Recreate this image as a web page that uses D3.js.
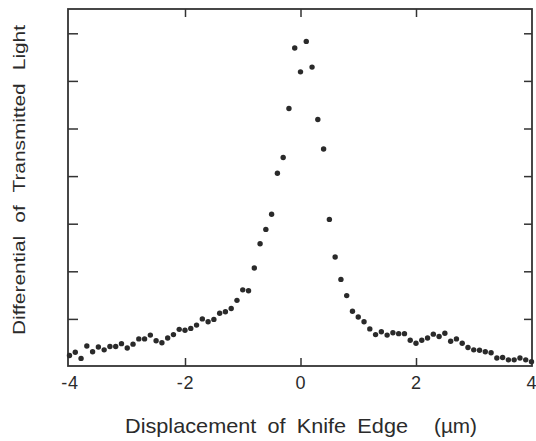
<!DOCTYPE html>
<html>
<head>
<meta charset="utf-8">
<script src="https://cdn.jsdelivr.net/npm/d3@7"></script>
<style>
  html, body { margin: 0; padding: 0; background: #fff; }
  svg { display: block; }
  text { font-family: "Liberation Sans", Arial, Helvetica, sans-serif; fill: #2b2b2b; }
</style>
</head>
<body>
<svg id="chart" width="536" height="441"></svg>
<script>
// Knife-edge scan: displacement in µm, sampled every 0.1 µm from -4 to 4
const displacement = d3.range(81).map(i => Math.round((-4 + i * 0.1) * 10) / 10);

// Differential of transmitted light (arbitrary units) at each displacement
const differential = [
  0.23, 0.30, 0.17, 0.43, 0.31, 0.41, 0.35, 0.42, 0.42, 0.48,
  0.39, 0.47, 0.58, 0.58, 0.66, 0.54, 0.50, 0.60, 0.67, 0.78,
  0.76, 0.80, 0.87, 1.00, 0.94, 0.99, 1.12, 1.15, 1.22, 1.39,
  1.61, 1.59, 2.07, 2.58, 2.88, 3.20, 4.06, 4.39, 5.42, 6.69,
  6.19, 6.83, 6.29, 5.19, 4.57, 3.09, 2.30, 1.83, 1.49, 1.16,
  1.04, 0.94, 0.79, 0.67, 0.73, 0.66, 0.71, 0.69, 0.69, 0.55,
  0.49, 0.55, 0.60, 0.68, 0.63, 0.70, 0.53, 0.58, 0.49, 0.40,
  0.35, 0.34, 0.31, 0.29, 0.18, 0.19, 0.14, 0.14, 0.18, 0.14,
  0.10
];

const xTickValues = [-4, -2, 0, 2, 4];
const xInnerTicks = [-2, 0, 2];
const yTickValues = [1, 2, 3, 4, 5, 6, 7];

const xTitle = "Displacement of Knife Edge";
const xUnit = "(µm)";
const yTitle = "Differential of Transmitted Light";

const svg = d3.select("#chart");
const frame = { left: 68, right: 532, top: 9, bottom: 366 };

const x = d3.scaleLinear().domain([-4, 4]).range([69.5, 531.5]);
const y = d3.scaleLinear().domain([0, 7.5]).range([366.5, 9.5]);

const ink = "#333";

function styleTicks(g) {
  g.select(".domain").remove();
  g.selectAll("line").attr("stroke", ink).attr("stroke-width", 1.5);
}

// bottom axis ticks pointing up into the plot
svg.append("g")
  .attr("transform", `translate(0,${frame.bottom})`)
  .call(d3.axisBottom(x).tickValues(xInnerTicks).tickSize(-8).tickSizeOuter(0).tickFormat(() => ""))
  .call(styleTicks);

// bottom tick labels
const bottomLabels = svg.append("g")
  .attr("transform", `translate(0,${frame.bottom})`)
  .call(d3.axisBottom(x).tickValues(xTickValues).tickSize(0).tickPadding(10).tickFormat(d => String(d)));
bottomLabels.select(".domain").remove();
bottomLabels.selectAll("text")
  .attr("font-size", 18)
  .attr("font-family", null)
  .attr("letter-spacing", 0.8)
  .style("fill", "#2b2b2b");

// top axis, ticks pointing down
svg.append("g")
  .attr("transform", `translate(0,${frame.top})`)
  .call(d3.axisTop(x).tickValues(xInnerTicks).tickSize(-8).tickSizeOuter(0).tickFormat(() => ""))
  .call(styleTicks);

// left axis, unlabeled ticks pointing right
svg.append("g")
  .attr("transform", `translate(${frame.left},0)`)
  .call(d3.axisLeft(y).tickValues(yTickValues).tickSize(-10).tickSizeOuter(0).tickFormat(() => ""))
  .call(styleTicks);

// right axis, unlabeled ticks pointing left
svg.append("g")
  .attr("transform", `translate(${frame.right},0)`)
  .call(d3.axisRight(y).tickValues(yTickValues).tickSize(-8).tickSizeOuter(0).tickFormat(() => ""))
  .call(styleTicks);

// plot frame
svg.append("rect")
  .attr("x", frame.left).attr("y", frame.top)
  .attr("width", frame.right - frame.left)
  .attr("height", frame.bottom - frame.top)
  .attr("fill", "none")
  .attr("stroke", ink)
  .attr("stroke-width", 1.8);

// data points
svg.append("g")
  .selectAll("circle")
  .data(displacement.map((d, i) => ({ x: d, y: differential[i] })))
  .join("circle")
  .attr("cx", d => x(d.x))
  .attr("cy", d => y(d.y))
  .attr("r", 2.7)
  .attr("fill", "#2a2a2a");

// axis titles
svg.append("text")
  .attr("x", 125).attr("y", 433)
  .attr("font-size", 21)
  .style("word-spacing", "5px")
  .attr("textLength", 283)
  .attr("lengthAdjust", "spacingAndGlyphs")
  .text(xTitle);

svg.append("text")
  .attr("x", 434).attr("y", 433)
  .attr("font-size", 21)
  .attr("textLength", 43)
  .attr("lengthAdjust", "spacingAndGlyphs")
  .text(xUnit);

svg.append("text")
  .attr("transform", "translate(25,335) rotate(-90)")
  .attr("x", 0).attr("y", 0)
  .attr("font-size", 17)
  .style("word-spacing", "6px")
  .attr("textLength", 310)
  .attr("lengthAdjust", "spacingAndGlyphs")
  .text(yTitle);
</script>
</body>
</html>
